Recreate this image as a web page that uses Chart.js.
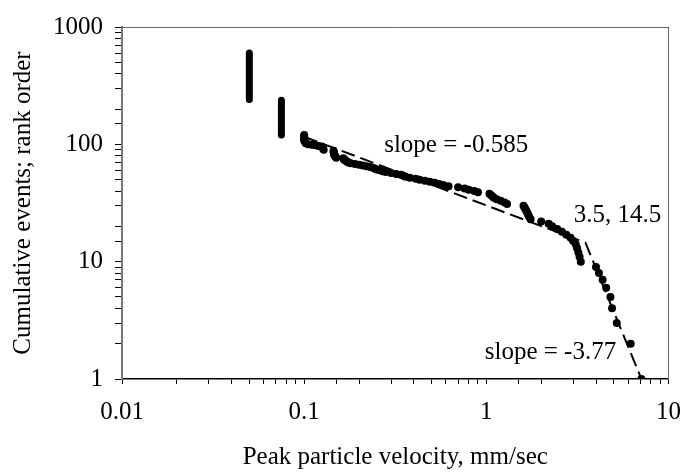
<!DOCTYPE html>
<html>
<head>
<meta charset="utf-8">
<script src="https://cdn.jsdelivr.net/npm/chart.js@4.4.1/dist/chart.umd.min.js"></script>
<style>
    body { margin: 0; background: #fff; }
</style>
</head>
<body>
<canvas id="rankChart" width="694" height="473"></canvas>
<script>
// Individual events: peak particle velocity (mm/sec) vs cumulative rank
const velocity = [
    7.1, 6.2, 5.2, 4.9, 4.8, 4.55, 4.35, 4.15, 4.0, 3.3,
    3.25, 3.2, 3.15, 3.1, 3.0, 2.9, 2.75, 2.6, 2.45, 2.3,
    2.2, 2.0, 1.75, 1.72, 1.7, 1.68, 1.66, 1.64, 1.62, 1.6,
    1.3, 1.26, 1.2, 1.14, 1.1, 1.08, 1.06, 1.04, 0.9, 0.86,
    0.8, 0.76, 0.7, 0.62, 0.58, 0.55, 0.52, 0.49, 0.46, 0.43,
    0.41, 0.38, 0.36, 0.35, 0.34, 0.32, 0.3, 0.28, 0.27, 0.26,
    0.25, 0.245, 0.24, 0.23, 0.22, 0.21, 0.2, 0.19, 0.18, 0.175,
    0.172, 0.17, 0.168, 0.166, 0.165, 0.164, 0.15, 0.149, 0.148, 0.147,
    0.146, 0.146, 0.145, 0.145, 0.128, 0.127, 0.126, 0.125, 0.12, 0.115,
    0.11, 0.105, 0.102, 0.101, 0.1, 0.1, 0.1, 0.1, 0.1
];
const rank = [
    1, 2, 3, 4, 5, 6, 7, 8, 9, 10,
    11, 12, 13, 14, 15, 16, 17, 18, 19, 20,
    21, 22, 23, 24, 25, 26, 27, 28, 29, 30,
    31, 32, 33, 34, 35, 36, 37, 38, 39, 40,
    41, 42, 43, 44, 45, 46, 47, 48, 49, 50,
    51, 52, 53, 54, 55, 56, 57, 58, 59, 60,
    61, 62, 63, 64, 65, 66, 67, 68, 69, 70,
    71, 72, 73, 74, 75, 76, 77, 78, 79, 80,
    82, 84, 86, 88, 90, 92, 94, 96, 97, 98,
    99, 100, 102, 105, 108, 111, 114, 117, 120
];

// Tied events at the recording threshold (drawn as solid runs)
const tieVelocity = [0.05, 0.075];
const tieRankTop = [600, 237];
const tieRankBottom = [241, 120];

// Two-segment fit, break at 3.5, 14.5
const fitVelocity = [0.1, 3.5, 7.1];
const fitRank = [116, 14.5, 1];

const xTickLabels = ['0.01', '0.1', '1', '10'];
const yTickLabels = ['1', '10', '100', '1000'];

const notes = [
    { text: 'slope = -0.585', x: 0.275, y: 98 },
    { text: '3.5, 14.5', x: 3.02, y: 24.8 },
    { text: 'slope = -3.77', x: 0.98, y: 1.69 }
];

const FONT = 'Liberation Serif';
const FONT_SIZE = 25;

function decadeLabel(labels) {
    return function (value) {
        const lg = Math.log10(value);
        if (Math.abs(lg - Math.round(lg)) > 1e-6) return '';
        const s = String(Math.round(value * 1000) / 1000);
        return labels.includes(s) ? s : '';
    };
}

const notePlugin = {
    id: 'notes',
    afterDatasetsDraw(chart) {
        const ctx = chart.ctx;
        const xs = chart.scales.x;
        const ys = chart.scales.y;
        ctx.save();
        ctx.font = FONT_SIZE + 'px "' + FONT + '"';
        ctx.fillStyle = '#000';
        ctx.textAlign = 'left';
        ctx.textBaseline = 'middle';
        notes.forEach(n => {
            ctx.fillText(n.text, xs.getPixelForValue(n.x), ys.getPixelForValue(n.y));
        });
        ctx.restore();
    }
};

const datasets = [];

datasets.push({
    data: velocity.map((v, i) => ({ x: v, y: rank[i] })),
    pointRadius: 4,
    pointBackgroundColor: '#000',
    pointBorderWidth: 0,
    showLine: false
});

tieVelocity.forEach((v, i) => {
    datasets.push({
        data: [{ x: v, y: tieRankTop[i] }, { x: v, y: tieRankBottom[i] }],
        showLine: true,
        borderColor: '#000',
        borderWidth: 7,
        borderCapStyle: 'round',
        pointRadius: 0
    });
});

datasets.push({
    data: fitVelocity.map((v, i) => ({ x: v, y: fitRank[i] })),
    showLine: true,
    borderColor: '#000',
    borderWidth: 2,
    borderDash: [14, 6],
    pointRadius: 0
});

new Chart(document.getElementById('rankChart'), {
    type: 'scatter',
    data: { datasets: datasets },
    plugins: [notePlugin],
    options: {
        responsive: false,
        animation: false,
        layout: { padding: 0 },
        plugins: {
            legend: { display: false },
            tooltip: { enabled: false }
        },
        scales: {
            x: {
                type: 'logarithmic',
                position: 'bottom',
                min: 0.01,
                max: 10,
                afterFit: s => { s.height = 94; },
                ticks: {
                    autoSkip: false,
                    maxRotation: 0,
                    padding: 13,
                    color: '#000',
                    font: { family: FONT, size: FONT_SIZE },
                    callback: decadeLabel(xTickLabels)
                },
                grid: { drawOnChartArea: false, tickLength: 5, color: '#000' },
                border: { color: '#000', width: 1.5 },
                title: {
                    display: true,
                    text: 'Peak particle velocity, mm/sec',
                    color: '#000',
                    font: { family: FONT, size: FONT_SIZE },
                    padding: { top: 0, bottom: 1 }
                }
            },
            y: {
                type: 'logarithmic',
                position: 'left',
                min: 1,
                max: 1000,
                afterFit: s => { s.width = 122; },
                ticks: {
                    autoSkip: false,
                    padding: 12,
                    color: '#000',
                    font: { family: FONT, size: FONT_SIZE },
                    callback: decadeLabel(yTickLabels)
                },
                grid: { drawOnChartArea: false, tickLength: 7, color: '#000' },
                border: { color: '#777', width: 2 },
                title: {
                    display: true,
                    text: 'Cumulative events; rank order',
                    color: '#000',
                    font: { family: FONT, size: FONT_SIZE },
                    padding: { top: 8, bottom: 0 }
                }
            },
            x2: {
                type: 'linear',
                position: 'top',
                min: 0,
                max: 1,
                afterFit: s => { s.height = 22; },
                ticks: { display: false },
                grid: { display: false },
                border: { color: '#666', width: 1, dash: [2, 1] }
            },
            y2: {
                type: 'linear',
                position: 'right',
                min: 0,
                max: 1,
                afterFit: s => { s.width = 13; },
                ticks: { display: false },
                grid: { display: false },
                border: { color: '#666', width: 1, dash: [2, 1] }
            }
        }
    }
});
</script>
</body>
</html>
